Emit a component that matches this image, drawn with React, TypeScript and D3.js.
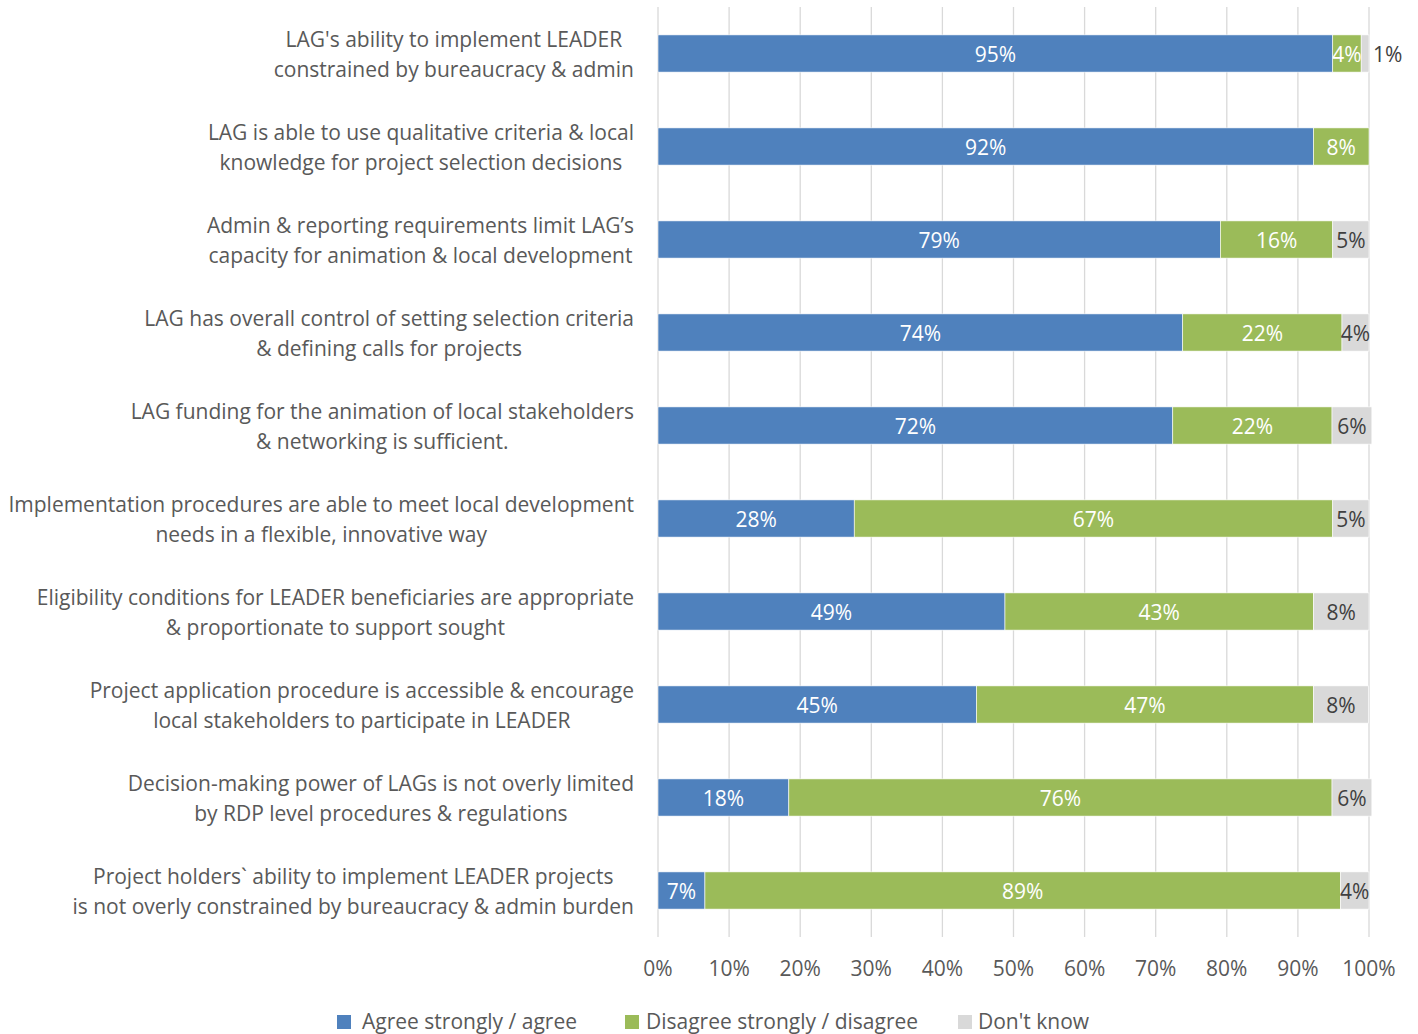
import React from 'react';
import * as d3 from 'd3';

const categories: string[][] = [
  ["LAG's ability to implement LEADER", "constrained by bureaucracy & admin"],
  ["LAG is able to use qualitative criteria & local", "knowledge for project selection decisions"],
  ["Admin & reporting requirements limit LAG\u2019s", "capacity for animation & local development"],
  ["LAG has overall control of setting selection criteria", "& defining calls for projects"],
  ["LAG funding for the animation of local stakeholders", "& networking is sufficient."],
  ["Implementation procedures are able to meet local development", "needs in a flexible, innovative way"],
  ["Eligibility conditions for LEADER beneficiaries are appropriate", "& proportionate to support sought"],
  ["Project application procedure is accessible & encourage", "local stakeholders to participate in LEADER"],
  ["Decision-making power of LAGs is not overly limited", "by RDP level procedures & regulations"],
  ["Project holders` ability to implement LEADER projects", "is not overly constrained by bureaucracy & admin burden"],
];

const agree = [0.949, 0.922, 0.791, 0.738, 0.724, 0.276, 0.488, 0.448, 0.184, 0.066];
const disagree = [0.040, 0.078, 0.158, 0.224, 0.224, 0.673, 0.434, 0.474, 0.764, 0.894];
const dontKnow = [0.011, 0, 0.051, 0.038, 0.056, 0.051, 0.078, 0.077, 0.056, 0.040];

const seriesNames = ["Agree strongly / agree", "Disagree strongly / disagree", "Don't know"];
const seriesColors = ["#4f81bd", "#9bbb59", "#d9d9d9"];
const labelColors = ["#ffffff", "#ffffff", "#404040"];
const xTicks = [0, 0.1, 0.2, 0.3, 0.4, 0.5, 0.6, 0.7, 0.8, 0.9, 1.0];

const FONT = "'Open Sans', Lato, sans-serif";
const FS = 21;

let measureCtx: CanvasRenderingContext2D | null = null;
function textWidth(s: string): number {
  if (!measureCtx) {
    const c = document.createElement('canvas');
    measureCtx = c.getContext('2d');
  }
  if (!measureCtx) return s.length * 10;
  measureCtx.font = `${FS}px 'Open Sans'`;
  return measureCtx.measureText(s).width;
}

export default function App() {
  const W = 1418, H = 1034;
  const x = d3.scaleLinear().domain([0, 1]).range([658, 1369]);
  const y = d3.scaleBand<number>()
    .domain(d3.range(categories.length))
    .range([7, 937])
    .paddingInner(0.6)
    .paddingOuter(0.3);
  const bw = y.bandwidth();
  const fmt = d3.format('.0%');
  const series = [agree, disagree, dontKnow];
  const labelRight = 634;
  const DY = "0.4em";

  const rows = categories.map((_, i) => {
    let acc = 0;
    return series.map((s, k) => {
      const v = s[i];
      const x0 = acc;
      acc += v;
      return { k, v, x0, x1: acc };
    });
  });

  const legendSq = [337, 625, 958];
  const legendTx = [362, 646, 978];

  return (
    <svg width={W} height={H} style={{ position: 'absolute', left: 0, top: 0, background: '#fff' }}
      fontFamily={FONT}>
      {xTicks.map((t) => (
        <line key={'g' + t} x1={x(t)} x2={x(t)} y1={7} y2={937} stroke="#d9d9d9" strokeWidth={1.3} />
      ))}
      {rows.map((segs, i) => {
        const yy = y(i) as number;
        return (
          <g key={'r' + i}>
            {segs.filter((s) => s.v > 0).map((s) => (
              <rect key={s.k} x={x(s.x0)} y={yy} width={x(s.x1) - x(s.x0)} height={bw}
                fill={seriesColors[s.k]} stroke="#ffffff" strokeWidth={0.6} />
            ))}
            {segs.filter((s) => s.v > 0).map((s) => {
              const wpx = x(s.x1) - x(s.x0);
              const outside = wpx < 15;
              return (
                <text key={'l' + s.k}
                  x={outside ? x(s.x1) + 4 : (x(s.x0) + x(s.x1)) / 2}
                  y={yy + bw / 2} dy={DY}
                  textAnchor={outside ? 'start' : 'middle'}
                  fontSize={FS}
                  fill={outside ? '#404040' : labelColors[s.k]}>
                  {fmt(s.v)}
                </text>
              );
            })}
          </g>
        );
      })}
      {categories.map((lines, i) => {
        const cy = (y(i) as number) + bw / 2;
        const maxW = Math.max(...lines.map(textWidth));
        const cx = labelRight - maxW / 2;
        return (
          <text key={'c' + i} x={cx} textAnchor="middle" fontSize={FS} fill="#595959">
            {lines.map((ln, j) => (
              <tspan key={j} x={cx} y={cy + (j - (lines.length - 1) / 2) * 30} dy={DY}>{ln}</tspan>
            ))}
          </text>
        );
      })}
      {xTicks.map((t) => (
        <text key={'t' + t} x={x(t)} y={968} dy={DY} textAnchor="middle" fontSize={FS} fill="#595959">
          {fmt(t)}
        </text>
      ))}
      {legendSq.map((lx, k) => (
        <g key={'lg' + k}>
          <rect x={lx} y={1015} width={14} height={14} fill={seriesColors[k]} />
          <text x={legendTx[k]} y={1021.5} dy="0.35em" fontSize={FS} fill="#595959">{seriesNames[k]}</text>
        </g>
      ))}
    </svg>
  );
}
